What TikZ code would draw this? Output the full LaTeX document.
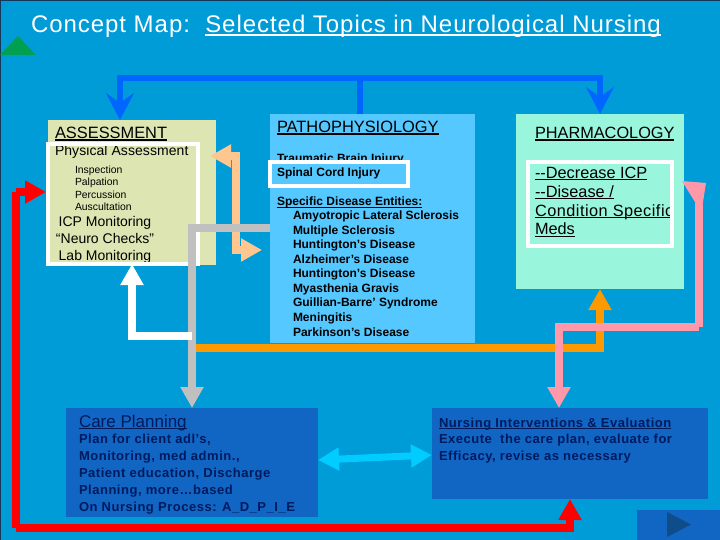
\documentclass[tikz,border=0pt]{standalone}
\usepackage{fontspec}
\setmainfont{Liberation Sans}
\usetikzlibrary{arrows.meta,calc}
\definecolor{bg}{HTML}{009CD8}
\definecolor{edge}{HTML}{14375C}
\definecolor{assessfill}{HTML}{DDE6B3}
\definecolor{pathfill}{HTML}{55C8FF}
\definecolor{pharmfill}{HTML}{99F5DC}
\definecolor{planfill}{HTML}{1166C4}
\definecolor{navy}{HTML}{001A5E}
\definecolor{bluearr}{HTML}{0066FF}
\definecolor{peach}{HTML}{FFC78F}
\definecolor{greyarr}{HTML}{C0C0C0}
\definecolor{orangearr}{HTML}{FF9900}
\definecolor{pinkarr}{HTML}{FF99AA}
\definecolor{redarr}{HTML}{FF0000}
\definecolor{cyanarr}{HTML}{00CCFF}
\definecolor{greenarr}{HTML}{00A050}
\definecolor{playfill}{HTML}{0F4C8A}
\newlength\ullen
\newcommand\ulx[1]{\leavevmode\settowidth\ullen{#1}\rlap{\rule[-0.13em]{\ullen}{0.07em}}#1}
\newcommand\fs[2]{\fontsize{#1}{#2}\selectfont}
\newcommand\spc[1]{\addfontfeature{LetterSpace=#1}}
\tikzset{
  x=1pt,y=-1pt,
  panel/.style={inner sep=0pt,outer sep=0pt,anchor=north west,draw=none},
  frame/.style={draw=white,line width=4pt,inner sep=0pt,outer sep=0pt,anchor=north west},
  txt/.style={inner sep=0pt,outer sep=0pt,anchor=base west,align=left},
  wire/.style={line width=8pt,line cap=butt,line join=miter},
  head/.style={-{Triangle[length=21pt,width=22pt]}},
  heads/.style={{Triangle[length=21pt,width=22pt]}-{Triangle[length=21pt,width=22pt]}},
  notch/.style={-{Stealth[length=27pt,width=28pt,inset=10pt]}},
}
\begin{document}
\begin{tikzpicture}
\useasboundingbox (0,0) rectangle (720,540);
\fill[bg] (0,0) rectangle (720,540);
\fill[edge] (0,0) rectangle (720,1);
\fill[edge] (0,0) rectangle (1,540);

% panels
\node[panel,fill=assessfill,minimum width=168pt,minimum height=145pt] (assess) at (48,120) {};
\node[panel,fill=pathfill,minimum width=205pt,minimum height=229pt] (patho) at (270,114) {};
\node[panel,fill=pharmfill,minimum width=168pt,minimum height=175pt] (pharm) at (516,114) {};
\node[panel,fill=planfill,minimum width=252pt,minimum height=109pt] (plan) at (66,408) {};
\node[panel,fill=planfill,minimum width=276pt,minimum height=91pt] (interv) at (432,408) {};
\node[panel,fill=planfill,minimum width=83pt,minimum height=30pt] (nextbtn) at (637,510) {};
\fill[playfill] (667,512) -- (691,524.5) -- (667,537) -- cycle;
\fill[greenarr] (0,55) -- (18,36) -- (36,55) -- cycle;

% title
\node[txt,text=white,font=\fs{24}{28}] (title) at (31,32.5) {\spc{4}Concept Map:\ \ \ulx{Selected Topics in Neurological Nursing}};

% assessment text
\node[txt,font=\fs{16.4}{19}] (assesshead) at (55,138.5) {\ulx{ASSESSMENT}};
\node[txt,font=\fs{14}{17}] (phys) at (55,156) {\spc{0.5}Physical Assessment};
\node[txt,font=\fs{10.4}{12.3}] (exam) at (75,210.4) {Inspection\\Palpation\\Percussion\\Auscultation};
\node[txt,anchor=base,align=center,font=\fs{14}{17}] (mon) at (105,260) {ICP Monitoring\\``Neuro Checks''\\Lab Monitoring};

% patho text
\node[txt,font=\fs{16.4}{18}] (pathohead) at (277,132.5) {\ulx{PATHOPHYSIOLOGY}};
\node[txt,font=\bfseries\fs{12}{14}] (tbi) at (277,163) {Traumatic Brain Injury};
\node[panel,frame,fill=pathfill,minimum width=138pt,minimum height=24pt] (sciframe) at (270,162) {};
\node[txt,font=\bfseries\fs{12}{14}] (sci) at (277,177) {Spinal Cord Injury};
\node[txt,font=\bfseries\fs{12}{14}] (spec) at (277,206) {\ulx{Specific Disease Entities:}};
\node[txt,font=\bfseries\fs{12}{14.55}] (list) at (293,336) {Amyotropic Lateral Sclerosis\\Multiple Sclerosis\\Huntington’s Disease\\Alzheimer’s Disease\\Huntington’s Disease\\Myasthenia Gravis\\Guillian-Barre’ Syndrome\\Meningitis\\Parkinson’s Disease};

% pharm text
\node[txt,font=\fs{16.3}{18}] (pharmhead) at (535,138.5) {\ulx{PHARMACOLOGY}};
\node[txt,font=\fs{16.3}{19}] (pharm1) at (535,235) {\ulx{-{}-Decrease ICP}\\\ulx{-{}-Disease /}\\{\spc{3}\ulx{Condition Specific}}\\\ulx{Meds}};

% plan text
\node[txt,text=navy,font=\fs{17}{19}] (planhead) at (79,427) {\ulx{Care Planning}};
\node[txt,text=navy,font=\bfseries\fs{13}{17}] (planbody) at (79,511) {\spc{4}Plan for client adl’s,\\\spc{4}Monitoring, med admin.,\\\spc{4}Patient education, Discharge\\\spc{4}Planning, more…based\\\spc{4}On Nursing Process: A\_D\_P\_I\_E};
\node[txt,text=navy,font=\bfseries\fs{13}{17}] (intervhead) at (439,427) {\spc{4}\ulx{Nursing Interventions \& Evaluation}};
\node[txt,text=navy,font=\bfseries\fs{13}{17}] (intervbody) at (439,460) {\spc{4}Execute\ \ the care plan, evaluate for\\\spc{4}Efficacy, revise as necessary};

% frames
\node[frame,minimum width=150pt,minimum height=120pt] (assessframe) at (48,144) {};
\node[frame,minimum width=144pt,minimum height=84pt] (pharmframe) at (528,162) {};

% coordinates for the connectors
\coordinate (bus) at (360,78);
\coordinate (xa) at (120,0);
\coordinate (xp) at (600,0);
\coordinate (greyj) at (192,228);
\coordinate (greystart) at (188,228);
\coordinate (peachtipL) at (210,156);
\coordinate (peachT) at (236,156);
\coordinate (peachB) at (236,250);
\coordinate (peachtipR) at (262,250);
\coordinate (whitej) at (192,336);
\coordinate (whiteb) at (132,336);
\coordinate (orangej) at (196,348);
\coordinate (orangeb) at (600,348);
\coordinate (pinkL) at (559,327);
\coordinate (pinkR) at (699,327);
\coordinate (pinkT) at (699,195);
\coordinate (redL) at (16,528);
\coordinate (redR) at (570,528);
\coordinate (redT) at (16,192);
\coordinate (redtip) at (46,192);
\coordinate (cyanL) at (318,460);
\coordinate (cyanR) at (432,455);

% connectors
\draw[wire,line width=6pt,bluearr] (patho.north -| bus) -- (bus);
\draw[wire,line width=6pt,bluearr,notch] (bus) -| (assess.north -| xa);
\draw[wire,line width=6pt,bluearr,notch] (bus) -| (pharm.north -| xp);
\draw[wire,peach,heads] (peachtipL) -- (peachT) -- (peachB) -- (peachtipR);
\draw[wire,greyarr] (patho.west |- greyj) -- (greystart);
\draw[wire,greyarr,head] (greyj) ++(0,-4) -- (plan.north -| greyj);
\draw[wire,white,head] (whitej) -| (assessframe.south -| whiteb);
\draw[wire,orangearr,head] (orangej) -| (pharm.south -| orangeb);
\draw[wire,pinkarr,head] (pinkR) -| (interv.north -| pinkL);
\draw[wire,pinkarr] (pinkR) -- (pinkT);
\fill[pinkarr] (682,181) -- (706,183) -- (703,202) -- (695,202) -- cycle;
\draw[wire,redarr,head] (redT) -- (redtip);
\draw[wire,redarr] (redL) -- (redT);
\draw[wire,redarr,head] (redL) -| (interv.south -| redR);
\draw[wire,line width=7pt,cyanarr,heads] (cyanL) -- (cyanR);
\end{tikzpicture}
\end{document}
